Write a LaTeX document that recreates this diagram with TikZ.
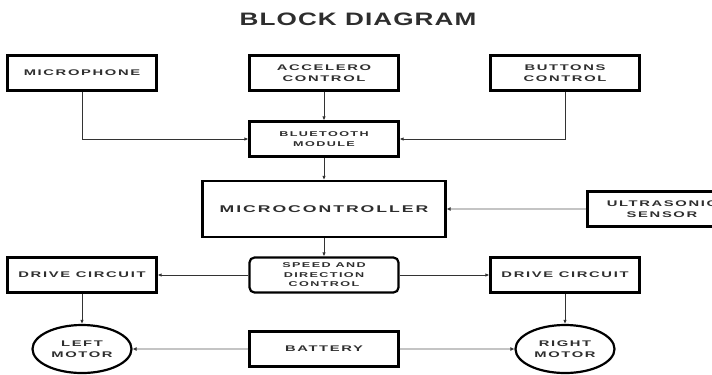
\documentclass[tikz,border=0pt]{standalone}
\usepackage{fontspec}
\setmainfont{Liberation Sans}
\newfontfamily\boxfont{Liberation Sans Bold}[FakeStretch=1.8,LetterSpace=20]
\newfontfamily\titlefont{Liberation Sans Bold}[FakeStretch=1.45,LetterSpace=6]
\usetikzlibrary{shapes.geometric,arrows.meta}
\definecolor{inkgray}{HTML}{2E2E2E}
\definecolor{wiregray}{HTML}{C4C4C4}

\begin{document}
\begin{tikzpicture}[x=1bp,y=-1bp,
	block/.style={
		draw, line width=2.2bp,
		minimum width=149bp, minimum height=35bp,
		inner sep=0pt, align=center, text=inkgray,
		font=\boxfont\fontsize{8.2bp}{11bp}\selectfont
	},
	small text/.style={font=\boxfont\fontsize{7bp}{9.5bp}\selectfont},
	motor/.style={block, ellipse, minimum width=99bp, minimum height=48bp},
	wire/.style={draw=black!80, line width=0.8bp, -{Latex[length=4bp,width=3.5bp]}},
	feed/.style={draw=wiregray, line width=2bp, -{Latex[length=4bp,width=4bp,color=black!80]}},
	heading/.style={text=inkgray, font=\titlefont\fontsize{18bp}{20bp}\selectfont}
	]
	\clip (0,0) rectangle (712,374);
	
	\node[heading] (title) at (358,19) {BLOCK DIAGRAM};
	
	\node[block] (mic) at (82,73) {MICROPHONE};
	\node[block] (acc) at (324,73) {ACCELERO\\CONTROL};
	\node[block] (btn) at (565,73) {BUTTONS\\CONTROL};
	\node[block, small text] (bt) at (324,139) {BLUETOOTH\\MODULE};
	
	\node[block, minimum width=243bp, minimum height=56bp,
		font=\boxfont\fontsize{9.8bp}{11bp}\selectfont] (mcu) at (324,209) {MICROCONTROLLER};
	\node[block] (ultra) at (662,209) {ULTRASONIC\\SENSOR};
	
	\node[block, small text, rounded corners=5bp] (speed) at (324,275) {SPEED AND\\DIRECTION\\CONTROL};
	\node[block] (drvL) at (82,275) {DRIVE CIRCUIT};
	\node[block] (drvR) at (565,275) {DRIVE CIRCUIT};
	
	\node[motor] (motL) at (82,349) {LEFT\\MOTOR};
	\node[block] (bat) at (324,349) {BATTERY};
	\node[motor] (motR) at (565,349) {RIGHT\\MOTOR};
	
	% inputs
	\draw[wire] (mic) |- (bt);
	\draw[wire] (acc) -- (bt);
	\draw[wire] (btn) |- (bt);
	\draw[wire] (bt) -- (mcu);
	\draw[feed] (ultra) -- (mcu);
	
	% outputs
	\draw[wire] (mcu) -- (speed);
	\draw[wire] (speed) -- (drvL);
	\draw[wire] (speed) -- (drvR);
	\draw[wire] (drvL) -- (motL);
	\draw[wire] (drvR) -- (motR);
	\draw[feed] (bat) -- (motL);
	\draw[feed] (bat) -- (motR);
	
\end{tikzpicture}
\end{document}
